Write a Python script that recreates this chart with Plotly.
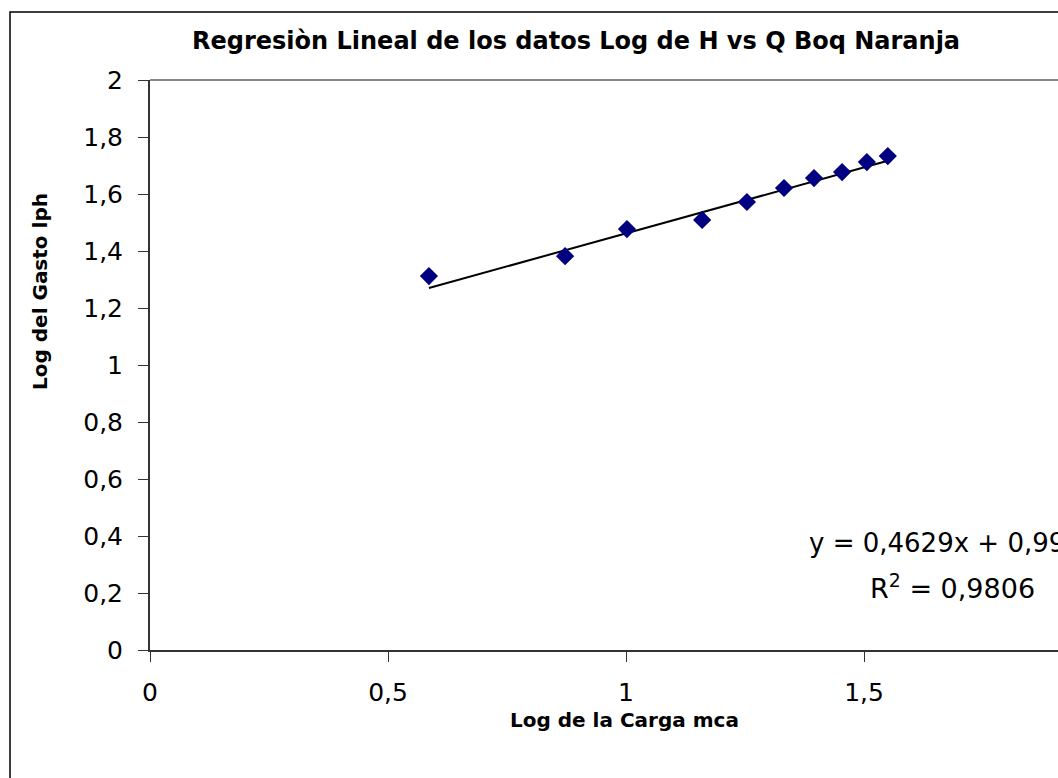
import plotly.graph_objects as go

# Data
log_carga = [0.586, 0.872, 1.002, 1.160, 1.254, 1.332, 1.395, 1.454, 1.506, 1.550]
log_gasto = [1.312, 1.382, 1.477, 1.509, 1.572, 1.621, 1.656, 1.677, 1.712, 1.733]
slope = 0.4629
intercept = 0.9989
r2 = 0.9806

x_ticks = [0, 0.5, 1, 1.5]
x_tick_labels = ["0", "0,5", "1", "1,5"]
y_ticks = [0, 0.2, 0.4, 0.6, 0.8, 1.0, 1.2, 1.4, 1.6, 1.8, 2.0]
y_tick_labels = ["0", "0,2", "0,4", "0,6", "0,8", "1", "1,2", "1,4", "1,6", "1,8", "2"]

FONT = "DejaVu Sans, Liberation Sans, Arial, sans-serif"

x_line = [min(log_carga), max(log_carga)]
y_line = [slope * v + intercept for v in x_line]

fig = go.Figure()
fig.add_trace(go.Scatter(x=x_line, y=y_line, mode="lines",
                         line=dict(color="black", width=2), showlegend=False,
                         hoverinfo="skip"))
fig.add_trace(go.Scatter(x=log_carga, y=log_gasto, mode="markers",
                         marker=dict(symbol="diamond", size=14, color="#000080",
                                     line=dict(width=0)),
                         showlegend=False))

L, R, T, B = 150, 0, 80, 128
W, H = 1058, 778
pw = W - L - R
ph = H - T - B

def px_x(p):
    return (p - L) / pw

def px_y(p):
    return (H - B - p) / ph

fig.update_layout(
    width=W, height=H,
    margin=dict(l=L, r=R, t=T, b=B, pad=0),
    paper_bgcolor="white", plot_bgcolor="white",
    font=dict(family=FONT, color="black"),
    separators=", ",
    xaxis=dict(range=[0, (W - L) / 476.0], showgrid=False, zeroline=False,
               tickmode="array", tickvals=x_ticks, ticktext=x_tick_labels,
               ticks="outside", ticklen=10, tickcolor="#333333", tickwidth=1,
               showline=True, linecolor="#333333", linewidth=2,
               tickfont=dict(size=25, family=FONT), ticklabelstandoff=9),
    yaxis=dict(range=[0, 2], showgrid=False, zeroline=False,
               tickmode="array", tickvals=y_ticks, ticktext=y_tick_labels,
               ticks="outside", ticklen=10, tickcolor="#333333", tickwidth=1,
               showline=True, linecolor="#333333", linewidth=2,
               tickfont=dict(size=25, family=FONT), ticklabelstandoff=10),
    shapes=[
        # outer chart border (extends beyond the visible area on right/bottom)
        dict(type="rect", xref="paper", yref="paper",
             x0=px_x(10), x1=px_x(1200), y0=px_y(900), y1=px_y(12),
             line=dict(color="black", width=1.5), layer="below"),
        # plot area top border
        dict(type="line", xref="paper", yref="paper",
             x0=0, x1=1, y0=1, y1=1, line=dict(color="#888888", width=2)),
    ],
    annotations=[
        dict(text="<b>Regresiòn Lineal de los datos Log de H vs Q Boq Naranja</b>",
             xref="paper", yref="paper", x=px_x(576), y=px_y(41),
             showarrow=False, font=dict(size=24, family=FONT),
             xanchor="center", yanchor="middle"),
        dict(text="<b>Log del Gasto lph</b>",
             xref="paper", yref="paper", x=px_x(40), y=px_y(292),
             showarrow=False, textangle=-90, font=dict(size=20, family=FONT),
             xanchor="center", yanchor="middle"),
        dict(text="<b>Log de la Carga mca</b>",
             xref="paper", yref="paper", x=px_x(624), y=px_y(720),
             showarrow=False, font=dict(size=20, family=FONT),
             xanchor="center", yanchor="middle"),
        dict(text="y = " + f"{slope:.4f}".replace(".", ",") + "x + " + f"{intercept:.4f}".replace(".", ","),
             xref="paper", yref="paper", x=px_x(807), y=px_y(543),
             showarrow=False, font=dict(size=26, family=FONT),
             xanchor="left", yanchor="middle"),
        dict(text="R<sup>2</sup> = " + f"{r2:.4f}".replace(".", ","),
             xref="paper", yref="paper", x=px_x(868), y=px_y(586),
             showarrow=False, font=dict(size=27, family=FONT),
             xanchor="left", yanchor="middle"),
    ],
)

fig.write_html("out.html")
